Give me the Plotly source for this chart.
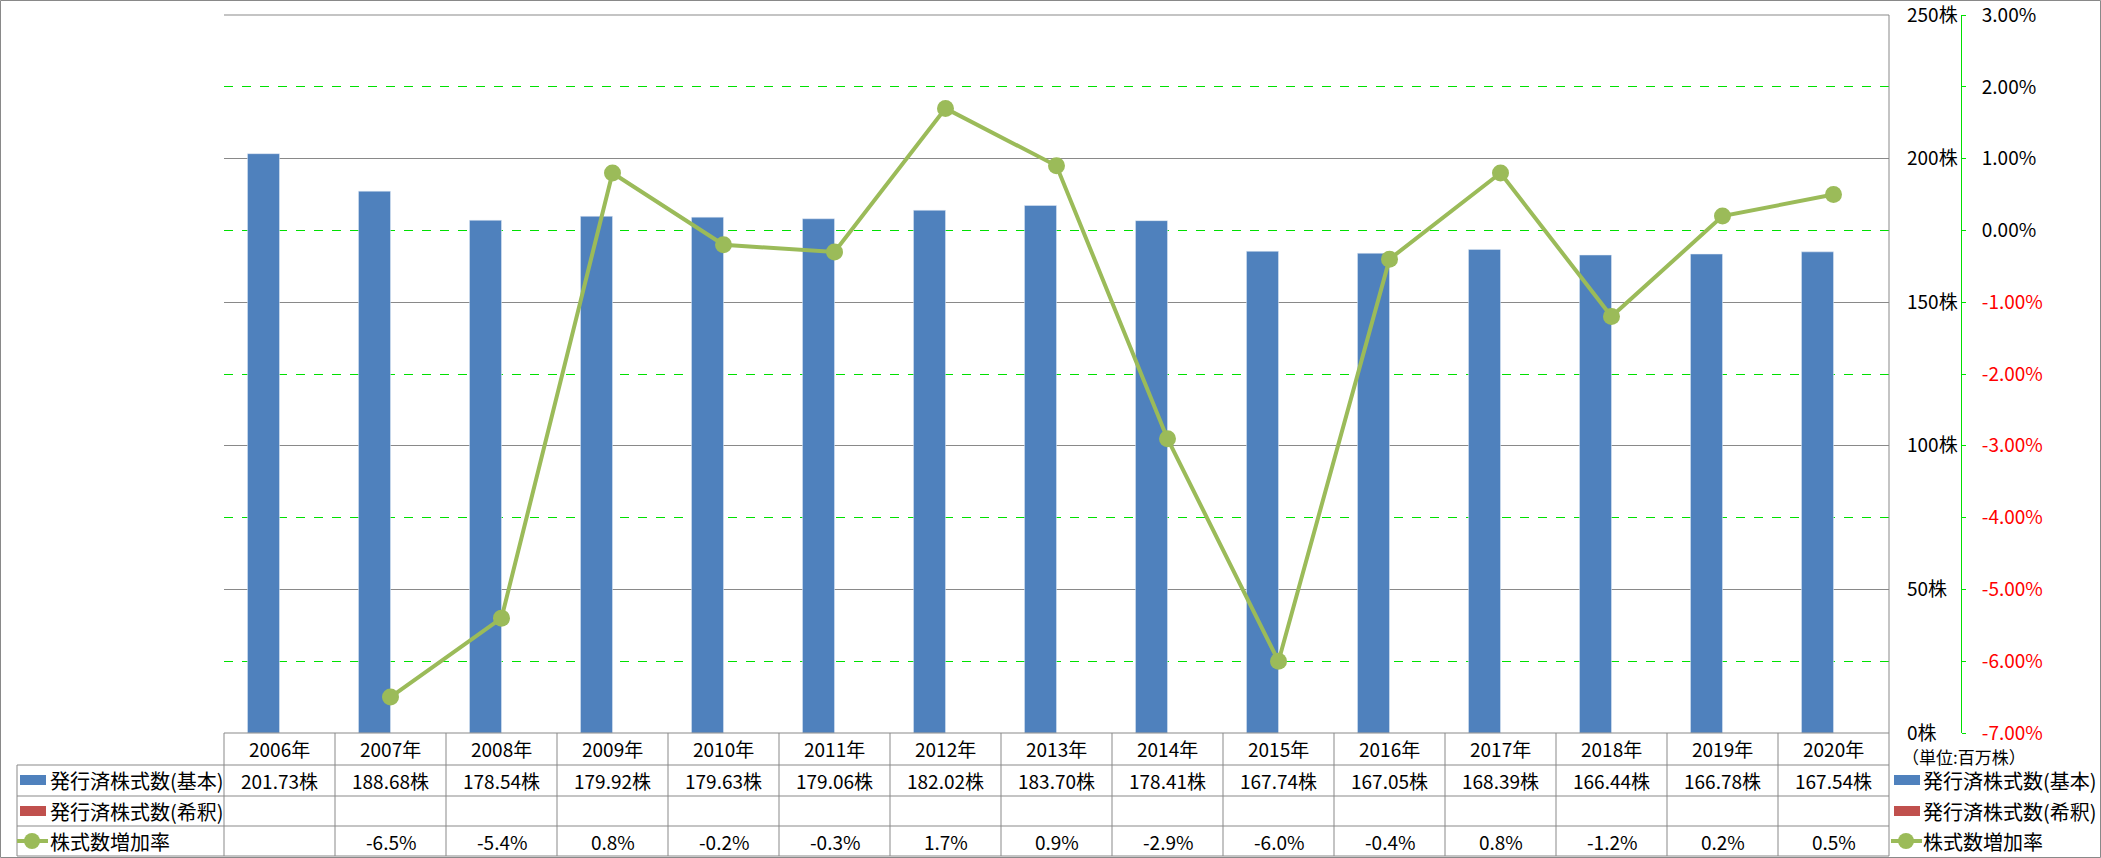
import plotly.graph_objects as go

# ---- data ----
years = ["2006年", "2007年", "2008年", "2009年", "2010年", "2011年", "2012年", "2013年",
         "2014年", "2015年", "2016年", "2017年", "2018年", "2019年", "2020年"]
shares_basic = [201.73, 188.68, 178.54, 179.92, 179.63, 179.06, 182.02, 183.70,
                178.41, 167.74, 167.05, 168.39, 166.44, 166.78, 167.54]
shares_diluted = [None] * 15
growth_rate = [None, -6.5, -5.4, 0.8, -0.2, -0.3, 1.7, 0.9, -2.9, -6.0, -0.4, 0.8, -1.2, 0.2, 0.5]
pct_ticks = [-7, -6, -5, -4, -3, -2, -1, 0, 1, 2, 3]
share_ticks = [0, 50, 100, 150, 200, 250]
series_names = ["発行済株式数(基本)", "発行済株式数(希釈)", "株式数増加率"]

W, H = 2101, 858
FONT = "Noto Sans CJK JP"
FS = 19
GRAY = "#898989"
BLUE = "#4F81BD"
RED = "#C0504D"
GREEN = "#9BBB59"
LIME = "#00E000"


def px(x):
    return x / W


def py(y):
    return 1 - y / H


PL, PR, PT, PB = 224, 1889, 15, 733
COLW = (PR - PL) / 15

fig = go.Figure()
fig.add_trace(go.Bar(x=years, y=shares_basic, name=series_names[0], marker_color=BLUE,
                     yaxis="y", showlegend=False))
fig.add_trace(go.Bar(x=years, y=shares_diluted, name=series_names[1], marker_color=RED,
                     yaxis="y", showlegend=False))
fig.add_trace(go.Scatter(x=years, y=growth_rate, name=series_names[2], yaxis="y2",
                         mode="lines+markers", line=dict(color=GREEN, width=4),
                         marker=dict(size=17, color=GREEN), showlegend=False,
                         connectgaps=False))

pct_text = []
for v in pct_ticks:
    s = f"{v:.2f}%"
    if v < 0:
        s = f'<span style="color:#FF0000">{s}</span>'
    pct_text.append(s)

fig.update_layout(
    width=W, height=H,
    margin=dict(l=0, r=0, t=0, b=0, pad=0, autoexpand=False),
    paper_bgcolor="white", plot_bgcolor="white",
    font=dict(family=FONT, size=FS, color="#000000"),
    barmode="group", bargap=0.423, bargroupgap=0,
    xaxis=dict(domain=[px(PL), px(PR)], range=[-0.5, 14.5], showticklabels=False,
               showgrid=False, zeroline=False, showline=False, ticks="", automargin=False),
    yaxis=dict(domain=[py(PB), py(PT)], range=[0, 250.02], tickvals=share_ticks,
               ticktext=[f"{v}株" for v in share_ticks], side="right",
               showgrid=True, gridcolor=GRAY, gridwidth=1, zeroline=False,
               showline=False, ticks="", ticklabelstandoff=17, automargin=False,
               ticklabeloverflow="allow",
               minor=dict(tickvals=[25, 75, 125, 175, 225], showgrid=True, gridcolor=LIME,
                          griddash="dash", gridwidth=1)),
    yaxis2=dict(overlaying="y", side="right", anchor="free", position=px(1961),
                range=[-7, 3.0008], tickvals=pct_ticks, ticktext=pct_text,
                showgrid=False, zeroline=False, showline=True, linecolor=LIME,
                linewidth=1, ticks="outside", ticklen=4, tickcolor=LIME,
                ticklabelstandoff=12, automargin=False, ticklabeloverflow="allow"),
)

shapes = []


def line(x0, y0, x1, y1, color=GRAY, width=1, dash=None, layer="above"):
    d = dict(type="line", xref="paper", yref="paper", x0=px(x0), y0=py(y0),
             x1=px(x1), y1=py(y1), line=dict(color=color, width=width), layer=layer)
    if dash:
        d["line"]["dash"] = dash
    shapes.append(d)


# outer border
line(0.5, 0.5, 2100.5, 0.5)
line(0.5, 857.5, 2100.5, 857.5)
line(0.5, 0.5, 0.5, 857.5)
line(2100.5, 0.5, 2100.5, 857.5)

# plot top & right border and table
line(PL, PT, PR, PT, layer="below")
line(PR, PT, PR, 856)
row_y = [733, 765, 796, 826, 856]
line(PL, row_y[0], PR, row_y[0])
for yy in row_y[1:]:
    line(17, yy, PR, yy)
line(17, 765, 17, 856)
for k in range(15):
    xx = PL + COLW * k
    line(xx, 733, xx, 856)

annotations = []


def text(x, y, s, xref="paper", xanchor="center", color="#000000", size=FS):
    annotations.append(dict(x=x, y=y, xref=xref, yref="paper", text=s, showarrow=False,
                            xanchor=xanchor, yanchor="middle",
                            font=dict(family=FONT, size=size, color=color)))


row_mid = [748, 780, 811, 841]
for i, yr in enumerate(years):
    text(yr, py(row_mid[0]), yr, xref="x")
    text(yr, py(row_mid[1]), f"{shares_basic[i]:.2f}株", xref="x")
    if growth_rate[i] is not None:
        text(yr, py(row_mid[3]), f"{growth_rate[i]:.1f}%", xref="x")


def legend_items(x0, x_text):
    for yc, col in [(row_mid[1], BLUE), (row_mid[2], RED)]:
        shapes.append(dict(type="rect", xref="paper", yref="paper", x0=px(x0), x1=px(x0 + 26),
                           y0=py(yc - 5), y1=py(yc + 5), line=dict(width=0), fillcolor=col))
    yc = row_mid[3]
    shapes.append(dict(type="line", xref="paper", yref="paper", x0=px(x0 - 3), x1=px(x0 + 28),
                       y0=py(yc), y1=py(yc), line=dict(color=GREEN, width=4)))
    shapes.append(dict(type="circle", xref="paper", yref="paper", x0=px(x0 + 4), x1=px(x0 + 20),
                       y0=py(yc + 8), y1=py(yc - 8), line=dict(width=0), fillcolor=GREEN))
    for j, nm in enumerate(series_names):
        text(px(x_text), py(row_mid[j + 1]), nm, xanchor="left", size=20)


legend_items(20, 48)
legend_items(1894, 1921)
text(px(1900), py(756), "（単位:百万株）", xanchor="left", size=17)

fig.update_layout(shapes=shapes, annotations=annotations)
fig.write_html("out.html")
